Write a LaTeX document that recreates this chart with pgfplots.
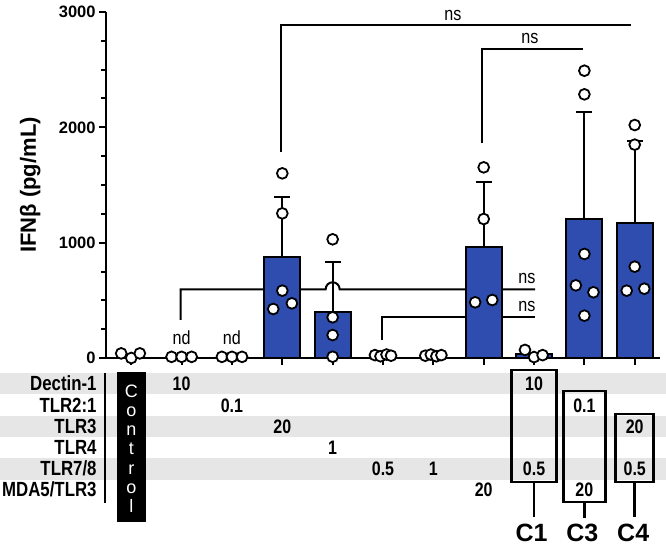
\documentclass[border=0pt]{standalone}
\usepackage{fontspec}
\setmainfont{Liberation Sans}
\newfontfamily\cnd{Liberation Sans}[FakeStretch=0.82]
\newfontfamily\nrw{Liberation Sans}[FakeStretch=0.85]
\usepackage{pgfplots}
\usepackage{pgfplotstable}
\pgfplotsset{compat=1.18}
\definecolor{barblue}{HTML}{2E4DAF}
\definecolor{stripe}{HTML}{E6E6E6}
\newcommand{\fs}[1]{\fontsize{#1}{#1}\selectfont}

% group means and upper SD
\pgfplotstableread{
x y e
4 873 526
5 396 439
8 960 569
9 38 0
10 1203 933
11 1168 716
}\means

% individual replicates
\pgfplotstableread{
x y
0.80 40
1.00 0
1.17 40
1.80 10
2.00 10
2.20 10
2.80 10
3.00 10
3.20 10
4.00 1601
4.00 1254
4.00 584
4.19 474
3.82 425
5.00 1029
5.00 353
5.00 199
5.00 11
5.84 25
5.95 15
6.07 30
6.16 20
6.84 20
6.95 30
7.06 15
7.16 25
8.00 1653
8.00 1205
7.83 483
8.17 503
8.82 70
9.00 8
9.17 25
10.00 2491
10.00 2286
10.00 902
9.83 630
10.18 570
10.00 367
11.00 2020
11.00 1850
11.00 792
10.84 584
11.19 601
}\reps

\begin{document}
\begin{tikzpicture}
\useasboundingbox (0,0) rectangle (666pt,552pt);

% stimulation table, y measured in px from the top
\begin{axis}[at={(106.1pt,0pt)}, anchor=south west, scale only axis,
  width=553.8pt, height=552pt, xmin=0.5, xmax=11.5, ymin=-552, ymax=0,
  hide axis, clip=false]
  \fill[stripe] (axis cs:-3,-373) rectangle (axis cs:13,-394);
  \fill[stripe] (axis cs:-3,-415.5) rectangle (axis cs:13,-437);
  \fill[stripe] (axis cs:-3,-458) rectangle (axis cs:13,-479.5);
  \draw[line width=2.2pt] (axis cs:0.48,-373) -- (axis cs:0.48,-503);
  \tikzset{rowlab/.style={anchor=base east, font=\cnd\bfseries\fs{20.5}}}
  \node[rowlab] at (axis cs:0.38,-390.7) {Dectin-1};
  \node[rowlab] at (axis cs:0.38,-412) {TLR2:1};
  \node[rowlab] at (axis cs:0.38,-433.2) {TLR3};
  \node[rowlab] at (axis cs:0.38,-454.4) {TLR4};
  \node[rowlab] at (axis cs:0.38,-475.6) {TLR7/8};
  \node[rowlab] at (axis cs:0.38,-496.8) {MDA5/TLR3};
  % control box
  \fill[black] (axis cs:0.712,-372) rectangle (axis cs:1.288,-522);
  \tikzset{ctl/.style={anchor=base, text=white, font=\fs{18}}}
  \node[ctl] at (axis cs:1,-397) {C};
  \node[ctl] at (axis cs:1,-416.3) {o};
  \node[ctl] at (axis cs:1,-435.6) {n};
  \node[ctl] at (axis cs:1,-454.9) {t};
  \node[ctl] at (axis cs:1,-474.2) {r};
  \node[ctl] at (axis cs:1,-493.5) {o};
  \node[ctl] at (axis cs:1,-512.8) {l};
  % doses
  \tikzset{dose/.style={anchor=base, font=\cnd\bfseries\fs{19.5}}}
  \node[dose] at (axis cs:2,-390.7) {10};
  \node[dose] at (axis cs:3,-412) {0.1};
  \node[dose] at (axis cs:4,-433.2) {20};
  \node[dose] at (axis cs:5,-454.4) {1};
  \node[dose] at (axis cs:6,-475.6) {0.5};
  \node[dose] at (axis cs:7,-475.6) {1};
  \node[dose] at (axis cs:8,-496.8) {20};
  \node[dose] at (axis cs:9,-390.7) {10};
  \node[dose] at (axis cs:9,-475.6) {0.5};
  \node[dose] at (axis cs:10,-412) {0.1};
  \node[dose] at (axis cs:10,-496.8) {20};
  \node[dose] at (axis cs:11,-433.2) {20};
  \node[dose] at (axis cs:11,-475.6) {0.5};
  % combination boxes
  \draw[line width=2.6pt] (axis cs:8.553,-370) rectangle (axis cs:9.447,-482);
  \draw[line width=2.6pt] (axis cs:9.583,-391) rectangle (axis cs:10.417,-502);
  \draw[line width=2.6pt] (axis cs:10.623,-414) rectangle (axis cs:11.377,-482);
  \draw[line width=2.6pt] (axis cs:9,-482) -- (axis cs:9,-517);
  \draw[line width=2.6pt] (axis cs:10,-502) -- (axis cs:10,-518);
  \draw[line width=2.6pt] (axis cs:11,-482) -- (axis cs:11,-517);
  \tikzset{comb/.style={anchor=base, font=\bfseries\fs{25}}}
  \node[comb] at (axis cs:8.95,-541.7) {C1};
  \node[comb] at (axis cs:9.96,-541.7) {C3};
  \node[comb] at (axis cs:10.97,-541.7) {C4};
\end{axis}

\begin{axis}[at={(106.1pt,194pt)}, anchor=south west, scale only axis,
  width=553.8pt, height=346pt,
  xmin=0.5, xmax=11.5, ymin=0, ymax=3000,
  clip=false,
  axis x line*=bottom, axis y line*=left,
  axis line style={line width=2.4pt, -},
  xtick={1,...,11}, xticklabels={},
  ytick={0,1000,2000,3000}, minor y tick num=3,
  tick align=outside, major tick length=7pt, minor tick length=5pt,
  tick style={line width=2pt, black},
  yticklabel style={font=\bfseries\fs{16.5}},
  /pgf/number format/assume math mode=true,
  /pgf/number format/1000 sep={},
  ylabel={IFNβ (pg/mL)},
  ylabel style={font=\bfseries\fs{22}, at={(axis description cs:-0.137,0.5)}, anchor=center},
]
  % significance brackets
  \draw[line width=2pt] (axis cs:3.97,1790) -- (axis cs:3.97,2888) -- (axis cs:10.92,2888);
  \draw[line width=2pt] (axis cs:7.96,1860) -- (axis cs:7.96,2677) -- (axis cs:9.97,2677);
  \draw[line width=2pt] (axis cs:1.98,330) -- (axis cs:1.98,596) -- (axis cs:4.861,596)
     arc[start angle=180, end angle=0, radius=7pt] -- (axis cs:9.02,596);
  \draw[line width=2pt] (axis cs:5.98,156) -- (axis cs:5.98,353) -- (axis cs:9.02,353);
  \tikzset{lab/.style={anchor=base, font=\nrw\fs{19}}}
  \node[lab] at (axis cs:7.39,2922) {ns};
  \node[lab] at (axis cs:8.92,2723) {ns};
  \node[lab] at (axis cs:8.86,642) {ns};
  \node[lab] at (axis cs:8.86,399) {ns};
  \node[lab] at (axis cs:2,113) {nd};
  \node[lab] at (axis cs:3,113) {nd};

  \addplot[ybar, bar width=36pt, fill=barblue, draw=black, line width=2pt,
    error bars/.cd, y dir=plus, y explicit,
    error bar style={line width=2pt, black},
    error mark options={rotate=90, mark size=8pt, line width=2pt, black}]
    table[x=x, y=y, y error=e] {\means};

  \addplot[only marks, mark=*, mark size=5.4pt,
    mark options={fill=white, draw=black, line width=1.8pt}]
    table[x=x, y=y] {\reps};
\end{axis}
\end{tikzpicture}
\end{document}
